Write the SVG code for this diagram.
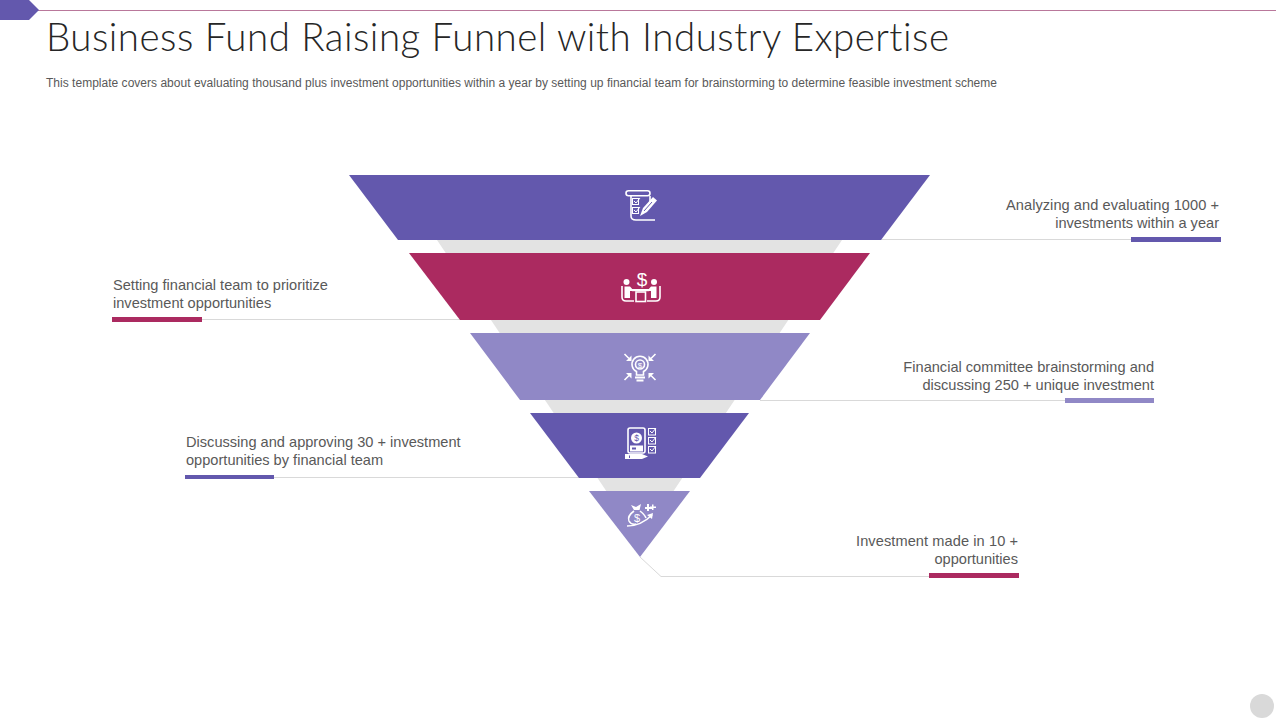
<svg xmlns="http://www.w3.org/2000/svg" width="1280" height="720" viewBox="0 0 1280 720">
<style>
text{font-family:"Liberation Sans",Arial,sans-serif}
.t{font-size:14.6px;fill:#595959}
.e{text-anchor:end}
.c{fill:none;stroke:#d9d9d9;stroke-width:1}
.i{fill:none;stroke:#fff;stroke-width:1.6}
.n{fill:none;stroke:#fff;stroke-width:1}
.f{fill:#fff}
.pu{fill:#6358ad}.cr{fill:#ab2a60}.li{fill:#9088c6}
</style>
<rect width="1280" height="720" fill="#fff"/>
<g id="header">
<line x1="30" y1="10.500" x2="1276" y2="10.500" stroke="#b9789b" stroke-width="1.200"/>
<polygon class="pu" points="0,0 29,0 39,10 29,20 0,20"/>
<text x="46" y="51" font-size="38.500" fill="#262626" style="font-family:Lato,'Liberation Sans',sans-serif;font-weight:300;font-variant-ligatures:none" textLength="903" lengthAdjust="spacing">Business Fund Raising Funnel with Industry Expertise</text>
<text x="46" y="87" font-size="12" fill="#595959" textLength="951" lengthAdjust="spacing">This template covers about evaluating thousand plus investment opportunities within a year by setting up financial team for brainstorming to determine feasible investment scheme</text>
</g>
<g id="connectors">
<line class="c" x1="881" y1="239.500" x2="1221" y2="239.500"/>
<line class="c" x1="112" y1="319.500" x2="460" y2="319.500"/>
<line class="c" x1="760" y1="400.500" x2="1154" y2="400.500"/>
<line class="c" x1="185" y1="477.500" x2="580" y2="477.500"/>
<polyline class="c" points="640,557 661,576.500 1019,576.500"/>
</g>
<g id="funnel-back">
<polygon fill="#e3e3e3" points="437,240 842,240 640,541"/>
</g>
<g id="node-1">
<polygon class="pu" points="349,175 930,175 881,240 398,240"/>
<g>
<rect class="i" x="626" y="190.800" width="24" height="5" rx="2.500"/>
<path class="i" d="M631 196V216Q631 220 636 220H655M650 196V204"/>
<rect class="n" x="632.500" y="198.500" width="6" height="6"/><rect class="n" x="632.500" y="207.500" width="6" height="6"/>
<path class="n" d="M634 201L636 203L640 198M634 210L636 212L640 207"/>
<path class="f" d="M640 216L643 208L653 197L657 200.500L647 212Z"/>
<path d="M644 211L652 202" stroke="#6358ad" stroke-width="1"/>
</g>
<text class="t e" x="1219" y="210" textLength="213" lengthAdjust="spacing">Analyzing and evaluating 1000 +</text>
<text class="t e" x="1219" y="228">investments within a year</text>
<rect class="pu" x="1131" y="237" width="90" height="5"/>
</g>
<g id="node-2">
<polygon class="cr" points="409,253 870,253 820,320 460,320"/>
<g>
<text x="642" y="286" font-size="19" fill="#fff" text-anchor="middle">$</text>
<rect class="i" x="636" y="292" width="9.500" height="9.500"/>
<rect class="f" x="632" y="289" width="17" height="2.200"/>
<circle class="f" cx="626.500" cy="282" r="3"/><circle class="f" cx="654" cy="282" r="3"/>
<path class="i" d="M622 286V297Q622 301 626 301H634M660 286V297Q660 301 656 301H647"/>
<path class="f" d="M624.500 286.500H630L634 291H630V298H624.500ZM656.500 286.500H651L647 291H651V298H656.500Z"/>
</g>
<text class="t" x="113" y="290">Setting financial team to prioritize</text>
<text class="t" x="113" y="308">investment opportunities</text>
<rect class="cr" x="112" y="317" width="90" height="5"/>
</g>
<g id="node-3">
<polygon class="li" points="470,333 810,333 760,400 520,400"/>
<g>
<path class="i" d="M636.500 375V371.500A8 8 0 1 1 643.500 371.500V375Z"/>
<circle class="i" cx="640" cy="364.500" r="4.500"/>
<text x="640" y="367.500" font-size="8" fill="#fff" text-anchor="middle">$</text>
<path class="f" d="M635 376.500H645V378.500H635ZM636.500 379.500H643.500V381.500H636.500Z"/>
<path class="i" d="M624.500 354L629 358.500M655.500 354L651 358.500M624.500 380L629 375.500M655.500 380L651 375.500"/>
<path class="f" d="M631.500 361V355.500L626 361ZM648.500 361V355.500L654 361ZM631.500 373H626L631.500 378.500ZM648.500 373H654L648.500 378.500Z"/>
</g>
<text class="t e" x="1154" y="372">Financial committee brainstorming and</text>
<text class="t e" x="1154" y="390">discussing 250 + unique investment</text>
<rect class="li" x="1065" y="398" width="89" height="5"/>
</g>
<g id="node-4">
<polygon class="pu" points="530,413 749,413 700,478 579,478"/>
<g>
<rect class="i" x="628" y="428" width="17" height="25" rx="2"/>
<circle class="f" cx="636.500" cy="438" r="5.500"/>
<text x="636.500" y="441" font-size="8.500" fill="#6358ad" text-anchor="middle">$</text>
<rect class="f" x="630" y="445.500" width="13" height="6"/>
<rect class="pu" x="632" y="447.500" width="4" height="2"/>
<path class="f" d="M625 454H642L648 456.500L642 459H625Z"/>
<rect x="629" y="455.500" width="1" height="2.500" fill="#6358ad"/>
<g class="n"><rect x="648.500" y="428.500" width="7" height="6.500"/><rect x="648.500" y="437.500" width="7" height="6.500"/><rect x="648.500" y="446.500" width="7" height="6.500"/><path d="M650 431L652 433L656 428M650 440L652 442L656 437M650 449L652 451L656 446"/></g>
</g>
<text class="t" x="186" y="447">Discussing and approving 30 + investment</text>
<text class="t" x="186" y="465">opportunities by financial team</text>
<rect class="pu" x="185" y="475" width="89" height="4"/>
</g>
<g id="node-5">
<polygon class="li" points="589,491 690,491 640,557"/>
<g>
<path class="f" d="M631 505L636 507L641 504L639.500 510H634Z"/>
<path class="i" d="M634 511Q627 516 629 521Q631 525 636 524M640 511Q645 515 646 518"/>
<text x="637" y="522" font-size="11" fill="#fff" text-anchor="middle">$</text>
<path class="i" d="M627 526Q641 526 652 515"/>
<path class="f" d="M653 513L647 515L652 519Z"/>
<path class="f" d="M647 504H649V507H652V509H649V511H647V509H645V507H647ZM652 504.500H653.500V506.500H656V508H653.500V510H652V508H650V506.500H652Z"/>
</g>
<text class="t e" x="1018" y="546" textLength="162" lengthAdjust="spacing">Investment made in 10 +</text>
<text class="t e" x="1018" y="564">opportunities</text>
<rect class="cr" x="929" y="573" width="90" height="5"/>
</g>
<g id="corner"><circle cx="1262" cy="706" r="12" fill="#d9d9d9"/></g>
</svg>
